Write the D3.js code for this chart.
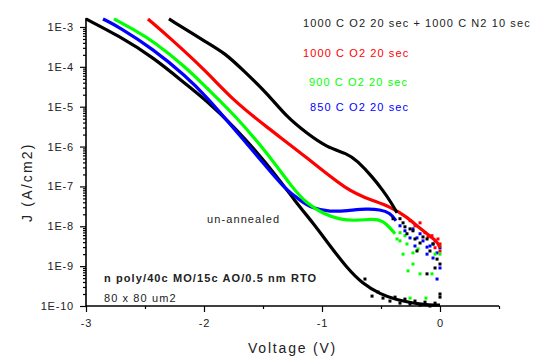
<!DOCTYPE html>
<html><head><meta charset="utf-8">
<script src="https://cdn.jsdelivr.net/npm/d3@7"></script>
<style>
body{margin:0;background:#fff}
text{font-family:"Liberation Sans",Arial,Helvetica,sans-serif;fill:#222}
</style>
</head><body>
<svg id="c" width="548" height="358"></svg>
<script>
// ---- data (Voltage in V, J in A/cm2) ----
const seriesLabels = ["1000 C O2 20 sec + 1000 C N2 10 sec", "1000 C O2 20 sec", "900 C O2 20 sec", "850 C O2 20 sec", "un-annealed"];
const seriesColors = ["#000000", "#ff0000", "#00ff00", "#0000ff", "#000000"];

const n2Line = [[-2.297,1.59e-3],[-1.983,4.19e-4],[-1.822,2.21e-4],[-1.669,8.26e-5],[-1.466,2.18e-5],[-1.297,5.41e-6],[-1.127,2.14e-6],[-0.958,9.5e-7],[-0.788,6.7e-7],[-0.703,4.47e-7],[-0.568,1.67e-7],[-0.483,7.83e-8],[-0.424,4.39e-8],[-0.364,2.19e-8]];
const n2Scatter = [[-0.339,1.55e-8],[-0.313,1.22e-8],[-0.280,6.5e-9],[-0.254,8.6e-9],[-0.229,7.7e-9],[-0.195,2.4e-9],[-0.169,3.8e-9],[-0.144,5.4e-9],[-0.110,4.8e-9],[-0.110,6.4e-10],[-0.085,2.4e-9],[-0.059,3.6e-9],[-0.042,9.0e-10],[-0.025,1.5e-9],[0,1.13e-9],[0,2.0e-10],[-0.636,4.75e-10],[-0.297,9.7e-9],[-0.212,4.8e-9],[-0.398,1.55e-8]];

const o2_1000Line = [[-2.475,1.59e-3],[-2.297,5.6e-4],[-1.983,7.9e-5],[-1.754,1.45e-5],[-1.466,3.03e-6],[-1.127,5.3e-7],[-0.788,7.83e-8],[-0.568,4.39e-8],[-0.424,3.1e-8],[-0.280,1.73e-8],[-0.169,8.65e-9],[-0.025,4.32e-9],[0,2.9e-9]];
const o2_1000Scatter = [[-0.254,1.38e-8],[-0.212,1.03e-8],[-0.169,1.22e-8],[-0.127,6.9e-9],[-0.102,5.4e-9],[-0.068,5.8e-9],[-0.042,4.3e-9],[-0.017,4.8e-9],[0,3.6e-9],[0,2.4e-9],[-0.042,2.9e-9]];

const o2_900Line = [[-2.763,1.59e-3],[-2.576,7.93e-4],[-2.432,4.44e-4],[-2.153,9.8e-5],[-1.983,3.08e-5],[-1.754,6.82e-6],[-1.466,7.1e-7],[-1.246,8.8e-8],[-1.127,3.69e-8],[-0.992,2.07e-8],[-0.847,1.46e-8],[-0.703,1.38e-8],[-0.568,1.55e-8],[-0.483,1.38e-8],[-0.424,9.2e-9],[-0.381,6.5e-9]];
const o2_900Scatter = [[-0.364,4.8e-9],[-0.339,4.3e-9],[-0.313,2.0e-9],[-0.280,3.6e-9],[-0.271,7.6e-10],[-0.229,1.13e-9],[-0.229,2.15e-9],[-0.169,6.4e-10],[-0.068,6.4e-10],[-0.042,2.0e-9],[0,2.0e-9],[-0.254,1.58e-10],[-0.119,1.58e-10],[0,3.2e-9],[-0.186,2.7e-9],[-0.339,6.9e-9],[-0.297,5.8e-9]];

const o2_850Line = [[-2.856,1.59e-3],[-2.720,1.0e-3],[-2.432,2.79e-4],[-2.153,5.83e-5],[-1.983,1.83e-5],[-1.754,3.03e-6],[-1.466,2.98e-7],[-1.331,9.9e-8],[-1.186,4.39e-8],[-1.076,2.76e-8],[-0.932,2.32e-8],[-0.788,2.45e-8],[-0.619,2.76e-8],[-0.508,2.61e-8],[-0.424,2.19e-8],[-0.373,1.38e-8]];
const o2_850Scatter = [[-0.339,1.03e-8],[-0.297,7.7e-9],[-0.254,5.1e-9],[-0.229,8.6e-9],[-0.195,5.1e-9],[-0.169,6.5e-9],[-0.144,4.3e-9],[-0.110,2.0e-9],[-0.085,3.2e-9],[-0.059,3.6e-9],[-0.025,2.15e-9],[-0.059,1.6e-9],[0,9.0e-10],[-0.025,4.75e-10],[0,2.9e-9],[-0.110,3.0e-9],[-0.212,3.2e-9]];

const unannealedLine = [[-3.000,1.59e-3],[-2.720,5.93e-4],[-2.432,1.75e-4],[-2.153,3.66e-5],[-1.983,1.45e-5],[-1.754,3.40e-6],[-1.466,3.75e-7],[-1.212,3.69e-8],[-1.076,1.22e-8],[-0.932,3.23e-9],[-0.788,9.0e-10],[-0.653,3.56e-10],[-0.508,2.0e-10],[-0.364,1.41e-10],[-0.229,1.18e-10],[-0.085,1.05e-10],[0,1.05e-10]];
const unannealedScatter = [[-0.576,1.77e-10],[-0.525,2.24e-10],[-0.483,1.58e-10],[-0.424,1.33e-10],[-0.381,1.67e-10],[-0.339,1.18e-10],[-0.297,1.49e-10],[-0.254,1.12e-10],[-0.212,1.33e-10],[-0.169,1.05e-10],[-0.127,1.25e-10],[-0.085,1.0e-10],[-0.042,1.18e-10],[0,1.67e-10]];

const xMajorTicks = [-3, -2, -1, 0];
const xMinorTicks = [-2.5, -1.5, -0.5, 0.5];
const yMajorTicks = [1e-10,1e-9,1e-8,1e-7,1e-6,1e-5,1e-4,1e-3];
const yTickLabels = ["1E-10","1E-9","1E-8","1E-7","1E-6","1E-5","1E-4","1E-3"];
const xTitle = "Voltage (V)";
const yTitle = "J (A/cm2)";
const note1 = "n poly/40c MO/15c AO/0.5 nm RTO";
const note2 = "80 x 80 um2";

// ---- drawing ----
const svg = d3.select("#c");
const x = d3.scaleLinear().domain([-3, 0.5]).range([86, 499]);
const y = d3.scaleLog().domain([1e-10, 1.68e-3]).range([306, 18]);

const yMinor = [];
for (let e = -10; e < -3; e++) for (let k = 2; k <= 9; k++) yMinor.push(k * Math.pow(10, e));

// axes
const gx = svg.append("g").attr("transform", "translate(0,306)");
gx.call(d3.axisBottom(x).tickValues(xMajorTicks).tickSize(6).tickPadding(7).tickFormat(d => String(d)));
svg.append("g").attr("transform", "translate(0,306)")
  .call(d3.axisBottom(x).tickValues(xMinorTicks).tickSize(3).tickFormat(""))
  .select(".domain").remove();
gx.select(".domain").attr("stroke-width", 1.6).attr("d", `M${x(-3)},0H${x(0.5)}`);

const gy = svg.append("g").attr("transform", "translate(86,0)");
gy.call(d3.axisLeft(y).tickValues(yMajorTicks).tickSize(6).tickPadding(6).tickFormat((d,i) => yTickLabels[i]));
svg.append("g").attr("transform", "translate(86,0)")
  .call(d3.axisLeft(y).tickValues(yMinor).tickSize(3).tickFormat(""))
  .select(".domain").remove();
gy.select(".domain").attr("stroke-width", 1.6).attr("d", `M0,${y(1e-10)}V${y(1.68e-3)}`);

svg.selectAll(".tick line").attr("stroke", "#000").attr("stroke-width", 1.2);
svg.selectAll(".tick text").attr("font-size", 11).attr("letter-spacing", 0.8)
  .style("font-family", '"Liberation Sans",Arial,sans-serif').attr("fill", "#222");

// curves
const line = d3.line().x(d => x(d[0])).y(d => y(d[1])).curve(d3.curveBasis);
const plotSeries = [
  [unannealedLine, unannealedScatter, seriesColors[4]],
  [o2_850Line, o2_850Scatter, seriesColors[3]],
  [o2_900Line, o2_900Scatter, seriesColors[2]],
  [o2_1000Line, o2_1000Scatter, seriesColors[1]],
  [n2Line, n2Scatter, seriesColors[0]]
];
plotSeries.forEach(([ln, sc, col]) => {
  svg.append("path").datum(ln).attr("d", line).attr("fill", "none")
    .attr("stroke", col).attr("stroke-width", 3.2).attr("stroke-linejoin", "round");
  svg.append("g").selectAll("rect").data(sc).join("rect")
    .attr("x", d => x(d[0]) - 1.5).attr("y", d => y(d[1]) - 1.5)
    .attr("width", 3).attr("height", 3).attr("fill", col);
});

// legend texts
const legendPos = [[303,27],[303,57],[309,86],[310,111]];
const legendFill = ["#222", "#ff0000", "#00ff00", "#0000ff"];
legendPos.forEach((p, i) => {
  svg.append("text").attr("x", p[0]).attr("y", p[1]).attr("font-size", 11)
    .attr("letter-spacing", 1.1).style("fill", legendFill[i]).text(seriesLabels[i]);
});
svg.append("text").attr("x", 207).attr("y", 223).attr("font-size", 11)
  .attr("letter-spacing", 1.1).text(seriesLabels[4]);

svg.append("text").attr("x", 104).attr("y", 282).attr("font-size", 11)
  .attr("font-weight", "bold").attr("letter-spacing", 1.1).text(note1);
svg.append("text").attr("x", 104).attr("y", 302).attr("font-size", 11)
  .attr("letter-spacing", 1.1).text(note2);

// axis titles
svg.append("text").attr("x", 248).attr("y", 353)
  .attr("font-size", 14).attr("letter-spacing", 1.8).text(xTitle);
svg.append("text").attr("transform", "translate(32,222) rotate(-90)")
  .attr("font-size", 14).attr("letter-spacing", 2.2).text(yTitle);
</script>
</body></html>
